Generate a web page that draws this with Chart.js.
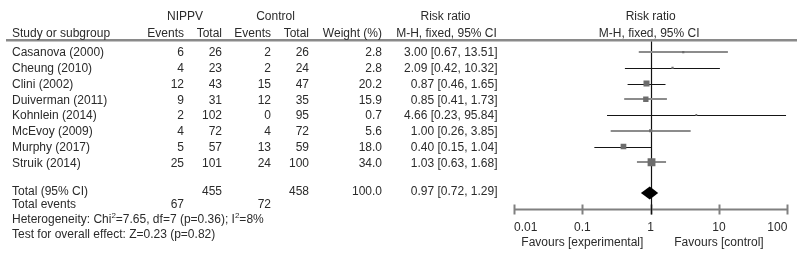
<!DOCTYPE html>
<html>
<head>
<meta charset="utf-8">
<script src="https://cdn.jsdelivr.net/npm/chart.js@4/dist/chart.umd.min.js"></script>
<style>
  html, body { margin: 0; padding: 0; background: #fff; }
  #forest { display: block; }
</style>
</head>
<body>
<canvas id="forest" width="798" height="255"></canvas>
<script>
// 研究資料 (per study)
const studies = ["Casanova (2000)", "Cheung (2010)", "Clini (2002)", "Duiverman (2011)",
  "Kohnlein (2014)", "McEvoy (2009)", "Murphy (2017)", "Struik (2014)"];
const nippvEvents = [6, 4, 12, 9, 2, 4, 5, 25];
const nippvTotal = [26, 23, 43, 31, 102, 72, 57, 101];
const controlEvents = [2, 2, 15, 12, 0, 4, 13, 24];
const controlTotal = [26, 24, 47, 35, 95, 72, 59, 100];
const weights = [2.8, 2.8, 20.2, 15.9, 0.7, 5.6, 18.0, 34.0];
const riskRatio = [3.00, 2.09, 0.87, 0.85, 4.66, 1.00, 0.40, 1.03];
const ciLower = [0.67, 0.42, 0.46, 0.41, 0.23, 0.26, 0.15, 0.63];
const ciUpper = [13.51, 10.32, 1.65, 1.73, 95.84, 3.85, 1.04, 1.68];

// 合計 (pooled)
const totalNippv = 455;
const totalControl = 458;
const totalWeight = 100.0;
const pooled = [0.97, 0.72, 1.29]; // estimate, lower, upper
const totalEvents = [67, 72];
const heterogeneity = ["7.65", "7", "0.36", "8%"]; // Chi2, df, p, I2
const overallEffect = "Test for overall effect: Z=0.23 (p=0.82)";

// 軸
const axisTicks = [0.01, 0.1, 1, 10, 100];
const favours = ["Favours [experimental]", "Favours [control]"];

// CI line look per row (anti-aliased grey vs. crisp black in the original)
const ciLook = ["grey", "black", "black", "grey", "black", "grey", "black", "grey"];

const FONT = "'Liberation Sans', Arial, sans-serif";
const TEXT = "#2b2b2b";
const fmt2 = (v) => v.toFixed(2);
const ciText = (e, l, u) => `${fmt2(e)} [${fmt2(l)}, ${fmt2(u)}]`;
const boxSize = (c) => Math.max(1.3, 0.95 * Math.sqrt(weights[c.dataIndex] || 0));

// 畫表格和森林圖的其他部分
const forestPlugin = {
  id: "forest",
  beforeDatasetsDraw(chart) {
    const { ctx, chartArea } = chart;
    const x = chart.scales.x;
    const y = chart.scales.y;
    ctx.save();
    // header rule
    ctx.strokeStyle = "#8a8a8a";
    ctx.lineWidth = 2.5;
    ctx.beginPath();
    ctx.moveTo(6, chartArea.top - 0.7);
    ctx.lineTo(797, chartArea.top - 0.7);
    ctx.stroke();

    // axis line + ticks
    const axisY = chartArea.bottom;
    ctx.strokeStyle = "#808080";
    ctx.lineWidth = 2;
    ctx.beginPath();
    ctx.moveTo(x.getPixelForValue(axisTicks[0]), axisY);
    ctx.lineTo(x.getPixelForValue(axisTicks[axisTicks.length - 1]), axisY);
    ctx.stroke();
    axisTicks.forEach((t) => {
      const px = Math.round(x.getPixelForValue(t)) + 0.5;
      ctx.beginPath();
      ctx.moveTo(px, axisY - 5);
      ctx.lineTo(px, axisY + 5);
      ctx.stroke();
    });

    // line of no effect
    const one = Math.round(x.getPixelForValue(1)) + 0.5;
    ctx.strokeStyle = "#111";
    ctx.lineWidth = 1.2;
    ctx.beginPath();
    ctx.moveTo(one, chartArea.top + 0.5);
    ctx.lineTo(one, axisY + 5);
    ctx.stroke();

    // confidence intervals
    studies.forEach((s, i) => {
      const py = y.getPixelForValue(i);
      const grey = ciLook[i] === "grey";
      ctx.strokeStyle = grey ? "#8c8c8c" : "#151515";
      ctx.lineWidth = grey ? 2 : 1;
      const yy = grey ? Math.round(py) : Math.round(py) + 0.5;
      ctx.beginPath();
      ctx.moveTo(x.getPixelForValue(ciLower[i]), yy);
      ctx.lineTo(x.getPixelForValue(ciUpper[i]), yy);
      ctx.stroke();
    });
    ctx.restore();
  },
  afterDraw(chart) {
    const { ctx } = chart;
    const x = chart.scales.x;
    const y = chart.scales.y;
    ctx.save();

    // pooled diamond
    const dy = y.getPixelForValue(8.95);
    ctx.fillStyle = "#000";
    ctx.beginPath();
    ctx.moveTo(x.getPixelForValue(pooled[1]), dy);
    ctx.lineTo(x.getPixelForValue(pooled[0]), dy - 6.5);
    ctx.lineTo(x.getPixelForValue(pooled[2]), dy);
    ctx.lineTo(x.getPixelForValue(pooled[0]), dy + 6.5);
    ctx.closePath();
    ctx.fill();

    ctx.font = `12px ${FONT}`;
    ctx.fillStyle = TEXT;
    ctx.textBaseline = "middle";
    const put = (txt, px, py, align) => {
      ctx.textAlign = align;
      ctx.fillText(txt, px, py);
    };

    // headers
    const h1 = y.getPixelForValue(-2.35) + 2;
    const h2 = y.getPixelForValue(-1.27) + 2;
    const plotMid = x.getPixelForValue(1);
    put("NIPPV", 185, h1, "center");
    put("Control", 275.5, h1, "center");
    put("Risk ratio", 445.5, h1, "center");
    put("Risk ratio", plotMid, h1, "center");
    put("Study or subgroup", 12, h2, "left");
    put("Events", 184, h2, "right");
    put("Total", 222, h2, "right");
    put("Events", 271, h2, "right");
    put("Total", 309, h2, "right");
    put("Weight (%)", 382, h2, "right");
    put("M-H, fixed, 95% CI", 446.5, h2, "center");
    put("M-H, fixed, 95% CI", plotMid - 1.5, h2, "center");

    // study rows
    studies.forEach((s, i) => {
      const py = y.getPixelForValue(i) + 1;
      put(s, 12, py, "left");
      put(String(nippvEvents[i]), 184, py, "right");
      put(String(nippvTotal[i]), 222, py, "right");
      put(String(controlEvents[i]), 271, py, "right");
      put(String(controlTotal[i]), 309, py, "right");
      put(weights[i].toFixed(1), 382, py, "right");
      put(ciText(riskRatio[i], ciLower[i], ciUpper[i]), 497.5, py, "right");
    });

    // totals
    const tY = y.getPixelForValue(8.8) + 1;
    put("Total (95% CI)", 12, tY, "left");
    put(String(totalNippv), 222, tY, "right");
    put(String(totalControl), 309, tY, "right");
    put(totalWeight.toFixed(1), 382, tY, "right");
    put(ciText(pooled[0], pooled[1], pooled[2]), 497.5, tY, "right");

    const eY = y.getPixelForValue(9.65) + 1;
    put("Total events", 12, eY, "left");
    put(String(totalEvents[0]), 184, eY, "right");
    put(String(totalEvents[1]), 271, eY, "right");

    // heterogeneity line with superscripts
    const hY = y.getPixelForValue(10.6) + 1;
    ctx.textAlign = "left";
    let cx = 12;
    const seg = (txt, sup) => {
      if (sup) {
        ctx.font = `8px ${FONT}`;
        ctx.fillText(txt, cx, hY - 4);
      } else {
        ctx.font = `12px ${FONT}`;
        ctx.fillText(txt, cx, hY);
      }
      cx += ctx.measureText(txt).width;
    };
    seg("Heterogeneity: Chi");
    seg("2", true);
    seg(`=${heterogeneity[0]}, df=${heterogeneity[1]} (p=${heterogeneity[2]}); I`);
    seg("2", true);
    seg(`=${heterogeneity[3]}`);
    ctx.font = `12px ${FONT}`;

    const oY = y.getPixelForValue(11.55) + 1;
    put(overallEffect, 12, oY, "left");

    // favours labels
    const fY = 242.5;
    put(favours[0], x.getPixelForValue(0.1), fY, "center");
    put(favours[1], x.getPixelForValue(10), fY, "center");
    ctx.restore();
  },
};

const canvas = document.getElementById("forest");
new Chart(canvas, {
  type: "scatter",
  data: {
    datasets: [
      {
        label: "Risk ratio",
        data: riskRatio.map((v, i) => ({ x: v, y: i })),
        pointStyle: "rect",
        pointRadius: boxSize,
        pointHoverRadius: boxSize,
        backgroundColor: "#6c6c6c",
        borderWidth: 0,
      },
    ],
  },
  options: {
    responsive: false,
    animation: false,
    devicePixelRatio: 1,
    layout: { padding: { left: 514, right: 10.7, top: 41, bottom: 0 } },
    plugins: { legend: { display: false }, tooltip: { enabled: false } },
    scales: {
      x: {
        type: "logarithmic",
        min: 0.01,
        max: 100,
        afterBuildTicks: (s) => {
          s.ticks = axisTicks.map((v) => ({ value: v }));
        },
        afterFit: (s) => {
          s.height = 45.5;
          s.paddingLeft = 0;
          s.paddingRight = 0;
        },
        ticks: {
          autoSkip: false,
          maxRotation: 0,
          align: "inner",
          padding: 3,
          color: TEXT,
          font: { family: FONT, size: 12 },
          callback: (v) => String(v),
        },
        grid: { display: false },
        border: { display: false },
      },
      y: {
        type: "linear",
        reverse: true,
        min: -0.7,
        max: 10,
        display: false,
      },
    },
  },
  plugins: [forestPlugin],
});
</script>
</body>
</html>
